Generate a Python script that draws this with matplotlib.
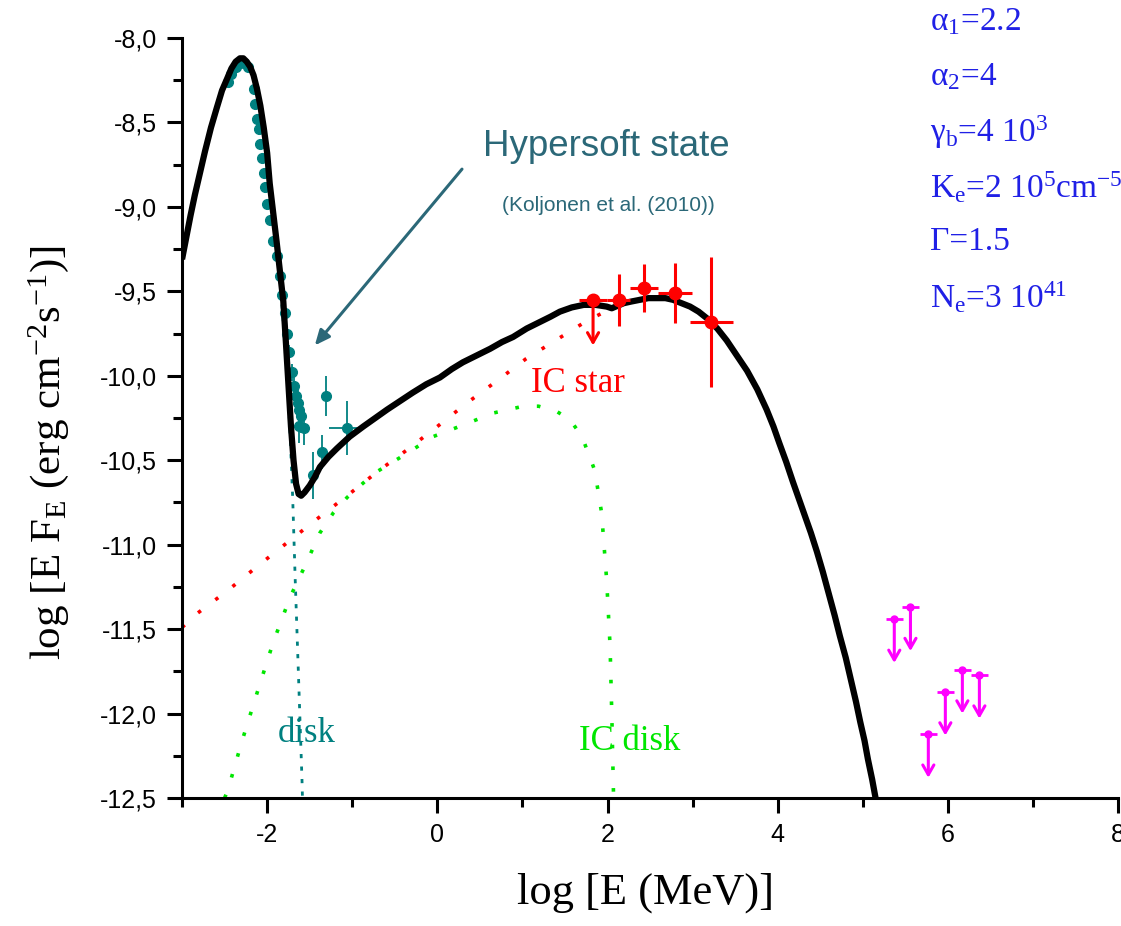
import matplotlib
matplotlib.use("Agg")
import matplotlib.pyplot as plt
from matplotlib.ticker import MultipleLocator, FuncFormatter

plt.rcParams['mathtext.fontset'] = 'custom'
plt.rcParams['mathtext.rm'] = 'Liberation Serif'
plt.rcParams['mathtext.it'] = 'Liberation Serif:italic'
plt.rcParams['mathtext.bf'] = 'Liberation Serif:bold'

# ---- data ----
total_x = [-3.00, -2.95, -2.90, -2.85, -2.79, -2.73, -2.66, -2.59, -2.53, -2.47, -2.42, -2.37,
           -2.32, -2.28, -2.24, -2.20, -2.16, -2.12, -2.08, -2.04, -2.00, -1.97, -1.93, -1.89,
           -1.85, -1.81, -1.78, -1.75, -1.72, -1.69, -1.66, -1.63, -1.60, -1.56, -1.50, -1.44,
           -1.38, -1.28, -1.18, -1.03, -0.87, -0.73, -0.59, -0.44, -0.29, -0.13, 0.03, 0.17,
           0.30, 0.46, 0.62, 0.76, 0.89, 1.05, 1.21, 1.33, 1.44, 1.58, 1.72, 1.86, 1.99, 2.05,
           2.12, 2.19, 2.28, 2.38, 2.48, 2.58, 2.68, 2.77, 2.87, 2.97, 3.07, 3.17, 3.29, 3.40,
           3.52, 3.64, 3.76, 3.87, 3.95, 4.02, 4.10, 4.18, 4.25, 4.32, 4.39, 4.46, 4.53, 4.60,
           4.67, 4.73, 4.80, 4.86, 4.92, 4.97, 5.02, 5.06, 5.11, 5.15]
total_y = [-9.31, -9.18, -9.05, -8.93, -8.80, -8.67, -8.53, -8.41, -8.31, -8.24, -8.18, -8.14,
           -8.12, -8.12, -8.14, -8.17, -8.22, -8.30, -8.40, -8.53, -8.68, -8.86, -9.03, -9.20,
           -9.38, -9.56, -9.80, -10.05, -10.30, -10.50, -10.64, -10.70, -10.71, -10.69, -10.65, -10.60,
           -10.54, -10.48, -10.43, -10.36, -10.30, -10.25, -10.20, -10.15, -10.10, -10.05, -10.01, -9.96,
           -9.92, -9.88, -9.84, -9.80, -9.77, -9.72, -9.68, -9.65, -9.62, -9.595, -9.58, -9.58, -9.59, -9.60,
           -9.585, -9.57, -9.56, -9.55, -9.54, -9.54, -9.54, -9.55, -9.57, -9.59, -9.62, -9.66, -9.72, -9.79,
           -9.88, -9.97, -10.08, -10.20, -10.30, -10.40, -10.51, -10.63, -10.73, -10.83, -10.93, -11.04, -11.16, -11.29,
           -11.42, -11.54, -11.67, -11.80, -11.93, -12.05, -12.16, -12.27, -12.39, -12.50]

icstar_x = [-3.00, -2.83, -2.46, -2.12, -1.77, -1.42, -1.06, -0.71, -0.36, 0.00, 0.35, 0.70,
            1.04, 1.39, 1.74, 1.97]
icstar_y = [-11.49, -11.41, -11.27, -11.13, -10.99, -10.85, -10.71, -10.57, -10.44, -10.30, -10.16, -10.03,
            -9.90, -9.79, -9.68, -9.62]

icdisk_x = [-2.50, -2.46, -2.30, -2.12, -1.93, -1.73, -1.55, -1.38, -1.22, -1.06, -0.75, -0.36,
            -0.05, 0.31, 0.66, 1.01, 1.19, 1.40, 1.56, 1.70, 1.85, 1.93, 1.99, 2.03, 2.05, 2.07]
icdisk_y = [-12.50, -12.45, -12.17, -11.88, -11.58, -11.31, -11.12, -10.93, -10.81, -10.72, -10.58, -10.46,
            -10.36, -10.29, -10.22, -10.18, -10.18, -10.21, -10.26, -10.36, -10.56, -10.81, -11.21, -11.60,
            -12.00, -12.47]

disk_x = [-1.85, -1.80, -1.76, -1.73, -1.70, -1.67, -1.63, -1.59, -1.585]
disk_y = [-9.43, -9.75, -10.05, -10.35, -10.72, -11.21, -11.80, -12.40, -12.50]

xray_x = [-2.46, -2.42, -2.37, -2.32, -2.27, -2.22, -2.16, -2.14, -2.12, -2.10, -2.08, -2.06,
          -2.04, -2.02, -2.00, -1.97, -1.93, -1.89, -1.85, -1.82, -1.79, -1.77, -1.74, -1.71,
          -1.68, -1.66, -1.64, -1.62, -1.60, -1.63, -1.57, -1.46, -1.35, -1.31, -1.06]
xray_y = [-8.26, -8.21, -8.17, -8.15, -8.15, -8.17, -8.30, -8.39, -8.48, -8.54, -8.63, -8.71,
          -8.80, -8.88, -8.98, -9.08, -9.20, -9.29, -9.41, -9.52, -9.63, -9.75, -9.86, -9.98,
          -10.06, -10.12, -10.16, -10.20, -10.24, -10.30, -10.31, -10.59, -10.45, -10.12, -10.31]
xray_yerr = [0.02, 0.02, 0.02, 0.02, 0.02, 0.02, 0.02, 0.02, 0.02, 0.02, 0.02, 0.02,
             0.02, 0.02, 0.02, 0.02, 0.02, 0.02, 0.02, 0.02, 0.03, 0.03, 0.04, 0.05,
             0.06, 0.07, 0.08, 0.08, 0.10, 0.10, 0.10, 0.14, 0.10, 0.12, 0.16]
xray_xerr = [0.0] * 34 + [0.21]

fermi_x = [2.13, 2.43, 2.79, 3.22]
fermi_y = [-9.55, -9.48, -9.51, -9.68]
fermi_xerr = [0.14, 0.16, 0.20, 0.25]
fermi_yerr = [0.155, 0.145, 0.18, 0.385]
fermi_ul_x = [1.83]
fermi_ul_y = [-9.55]
fermi_ul_xerr = [0.16]

tev_ul_x = [5.37, 5.56, 5.77, 5.97, 6.17, 6.37]
tev_ul_y = [-11.44, -11.37, -12.12, -11.87, -11.74, -11.77]

params = [r"α$_{1}$=2.2", r"α$_{2}$=4", r"γ$_\mathrm{b}$=4 10$^{3}$",
          r"K$_\mathrm{e}$=2 10$^{5}$cm$^{-5}$", r"Γ=1.5", r"N$_\mathrm{e}$=3 10$^{41}$"]

TEAL = '#008080'
RED = '#ff0000'
GREEN = '#00e600'
MAG = '#ff00ff'
BLUE = '#2020e6'
HYP = '#2b6878'

fig = plt.figure(figsize=(11.21, 9.26), dpi=100)
ax = fig.add_axes([0.1624, 0.1382, 0.8350, 0.8207])

ax.plot(icstar_x, icstar_y, color=RED, lw=2.6, ls=(0, (1, 5)))
ax.plot(icdisk_x, icdisk_y, color=GREEN, lw=2.6, ls=(0, (1, 5)))
ax.plot(disk_x, disk_y, color=TEAL, lw=2.0, ls=(0, (1.5, 3)))

ax.errorbar(xray_x, xray_y, yerr=xray_yerr, xerr=xray_xerr, fmt='o', color=TEAL, ms=7,
            elinewidth=1.3, capsize=0, zorder=3)

ax.plot(total_x, total_y, color='black', lw=4.5, solid_capstyle='butt',
        solid_joinstyle='round', zorder=4)

ax.errorbar(fermi_x, fermi_y, xerr=fermi_xerr, yerr=fermi_yerr, fmt='o', color=RED, ms=9,
            elinewidth=2.2, capsize=0, zorder=5)
ax.errorbar(fermi_ul_x, fermi_ul_y, xerr=fermi_ul_xerr, fmt='o', color=RED, ms=9,
            elinewidth=2.2, capsize=0, zorder=5)
for x, y in zip(fermi_ul_x, fermi_ul_y):
    ax.annotate('', xy=(x, y - 0.27), xytext=(x, y),
                arrowprops=dict(arrowstyle='->,head_length=0.7,head_width=0.4', lw=2.2,
                                color=RED, shrinkA=0, shrinkB=0), zorder=5)

ax.errorbar(tev_ul_x, tev_ul_y, xerr=0.1, fmt='o', color=MAG, ms=5, elinewidth=2.0,
            capsize=0, zorder=5)
for x, y in zip(tev_ul_x, tev_ul_y):
    ax.annotate('', xy=(x, y - 0.26), xytext=(x, y),
                arrowprops=dict(arrowstyle='->,head_length=0.7,head_width=0.4', lw=2.2,
                                color=MAG, shrinkA=0, shrinkB=0), zorder=5)

# annotations
ax.annotate('', xy=(-1.44, -9.82), xytext=(0.29, -8.776),
            arrowprops=dict(arrowstyle='-|>,head_length=0.9,head_width=0.4', lw=2.2,
                            color=HYP, shrinkA=0, shrinkB=0))
ax.text(1.99, -8.645, 'Hypersoft state', color=HYP, fontsize=26.5, family='Liberation Sans',
        ha='center', va='center')
ax.text(2.01, -8.99, '(Koljonen et al. (2010))', color=HYP, fontsize=15,
        family='Liberation Sans', ha='center', va='center')
ax.text(1.65, -10.094, 'IC star', color=RED, fontsize=25, family='Liberation Serif',
        ha='center', va='baseline')
ax.text(-1.53, -12.17, 'disk', color=TEAL, fontsize=25, family='Liberation Serif',
        ha='center', va='baseline')
ax.text(2.26, -12.215, 'IC disk', color=GREEN, fontsize=25, family='Liberation Serif',
        ha='center', va='baseline')

for i, s in enumerate(params):
    fig.text(930 / 1121, 1 - (22 + 55 * i) / 926, s, color=BLUE, fontsize=24,
             family='Liberation Serif', ha='left', va='center')

# axes styling
ax.set_xlim(-3, 8)
ax.set_ylim(-12.5, -8.0)
for side in ['top', 'right']:
    ax.spines[side].set_visible(False)
for side in ['left', 'bottom']:
    ax.spines[side].set_linewidth(2.2)

ax.xaxis.set_major_locator(MultipleLocator(2))
ax.xaxis.set_minor_locator(MultipleLocator(1))
ax.yaxis.set_major_locator(MultipleLocator(0.5))
ax.yaxis.set_minor_locator(MultipleLocator(0.25))
ax.yaxis.set_major_formatter(FuncFormatter(lambda v, p: ('%.1f' % v).replace('.', ',')))
ax.xaxis.set_major_formatter(FuncFormatter(lambda v, p: '%d' % round(v)))
ax.tick_params(which='major', direction='out', length=11, width=2.2, labelsize=18, pad=7)
ax.tick_params(which='minor', direction='out', length=6.5, width=2.2)
for lab in ax.get_xticklabels() + ax.get_yticklabels():
    lab.set_family('Liberation Sans')

ax.set_xlabel('log [E (MeV)]', fontsize=32, family='Liberation Serif')
ax.xaxis.label.set_va('center')
ax.xaxis.set_label_coords(0.495, -0.125)
ax.set_ylabel(r'log [E F$_\mathrm{E}$ (erg cm$^{-2}$s$^{-1}$)]', fontsize=31,
              family='Liberation Serif')
ax.yaxis.label.set_va('center')
ax.yaxis.set_label_coords(-0.143, 0.455)

fig.savefig('out.png', dpi=100)
